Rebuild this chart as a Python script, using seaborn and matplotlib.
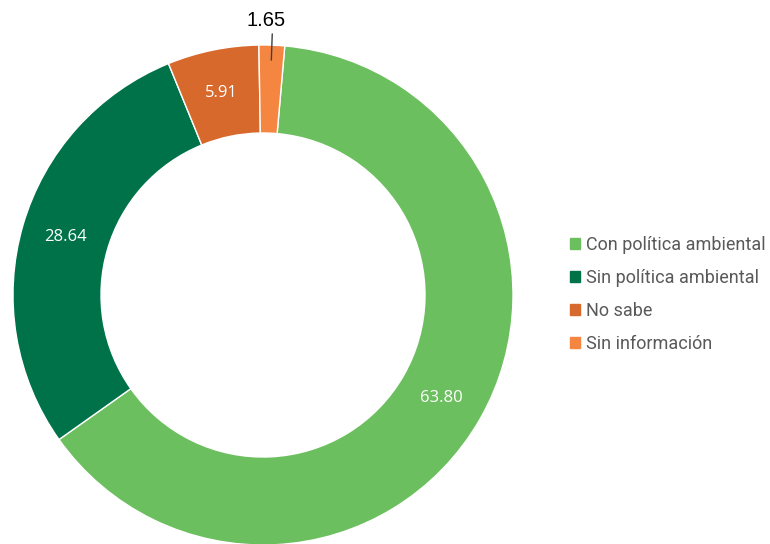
import numpy as np
import matplotlib
matplotlib.use("Agg")
import matplotlib.pyplot as plt
import seaborn as sns

categories = ["Con política ambiental", "Sin política ambiental", "No sabe", "Sin información"]
values = [63.80, 28.64, 5.91, 1.65]
colors = ["#6CBF5E", "#00724A", "#D8692C", "#F48642"]

sns.set_theme(style="white")
plt.rcParams['font.family'] = ['Roboto', 'DejaVu Sans']

fig = plt.figure(figsize=(7.7, 5.44), dpi=100)
ax = fig.add_axes([13/770, (544-295-250)/544, 500/770, 500/544])

wedges, _ = ax.pie(values, colors=colors, startangle=85, counterclock=False,
                   radius=1.0, wedgeprops=dict(width=0.352, edgecolor="white", linewidth=1.0))
ax.set_xlim(-1, 1)
ax.set_ylim(-1, 1)
ax.set_aspect('equal')
ax.axis('off')

rmid = 0.824
for w, v in zip(wedges, values):
    ang = np.deg2rad((w.theta1 + w.theta2) / 2)
    if v < 3:
        x0, y0 = 0.94 * np.cos(ang), 0.94 * np.sin(ang)
        x1, y1 = 1.045 * np.cos(ang), 1.045 * np.sin(ang)
        ax.plot([x0, x1], [y0, y1], color="#404040", lw=1.0, clip_on=False)
        ax.text(x1 - 0.024, 1.10, f"{v:.2f}", ha="center", va="center",
                fontsize=14.5, color="black", family=['Liberation Sans', 'DejaVu Sans'])
    else:
        ax.text(rmid * np.cos(ang), rmid * np.sin(ang), f"{v:.2f}", ha="center", va="center",
                fontsize=12, color="white", family=['Open Sans', 'DejaVu Sans'])

handles = [plt.Rectangle((0, 0), 1, 1, color=c) for c in colors]
fig.legend(handles, categories, loc="center left", bbox_to_anchor=(563/770, 1 - 294.5/544),
           frameon=False, fontsize=13, labelcolor="#595959", handlelength=0.55, handleheight=0.55,
           handletextpad=0.35, labelspacing=0.82, borderaxespad=0)

fig.savefig("out.png", dpi=100)
